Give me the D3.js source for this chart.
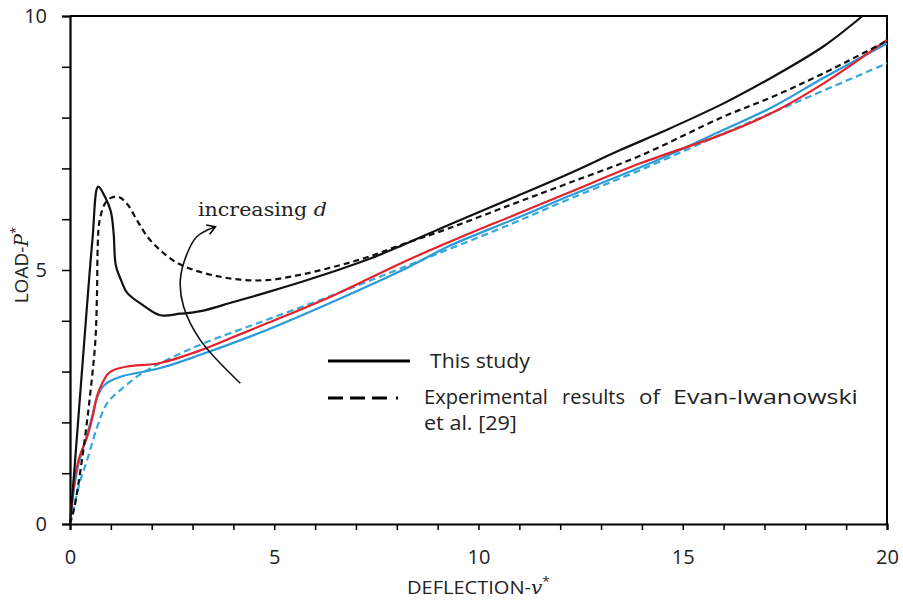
<!DOCTYPE html>
<html>
<head>
<meta charset="utf-8">
<script src="https://cdn.jsdelivr.net/npm/d3@7"></script>
<style>
  body { margin: 0; background: #fff; }
  svg { display: block; font-family: "Open Sans", Lato, sans-serif; }
</style>
</head>
<body>
<div id="app"></div>
<script>
// this study, black solid (largest d)
const studyBlack = [[0,0],[0.12,1.2],[0.34,3.5],[0.55,5.6],[0.69,6.64],[0.85,6.45],[1.0,6.15],[1.07,5.7],[1.12,5.1],[1.25,4.8],[1.4,4.55],[1.8,4.3],[2.21,4.11],[2.7,4.14],[3.2,4.19],[4.0,4.37],[4.82,4.56],[5.64,4.76],[6.45,4.97],[7.27,5.2],[8.09,5.47],[9.31,5.9],[10.78,6.4],[12.17,6.88],[13.47,7.36],[14.5,7.72],[16,8.28],[17.2,8.8],[18.44,9.4],[19.4,10]];
// experimental, black dashed
const expBlack = [[0,0],[0.1,0.3],[0.3,1.3],[0.5,2.6],[0.62,3.6],[0.66,4.5],[0.68,5.5],[0.72,5.95],[0.85,6.3],[1.0,6.42],[1.19,6.44],[1.4,6.3],[1.64,5.98],[1.9,5.65],[2.21,5.39],[2.6,5.15],[3.03,5.0],[3.6,4.88],[4.17,4.81],[4.82,4.8],[5.6,4.9],[6.45,5.06],[7.27,5.25],[8.09,5.49],[9.31,5.83],[10.78,6.28],[12.17,6.7],[13.96,7.25],[16,8.02],[17.2,8.41],[18.44,8.87],[20,9.51]];
// this study, red solid
const studyRed = [[0,0],[0.1,0.8],[0.22,1.29],[0.42,1.72],[0.55,2.1],[0.67,2.54],[0.79,2.77],[0.92,2.95],[1.07,3.03],[1.4,3.1],[2.21,3.17],[3.2,3.42],[4.0,3.68],[4.82,3.95],[6.45,4.5],[8.09,5.13],[9.31,5.56],[10.78,6.05],[12.17,6.51],[13.96,7.1],[16,7.68],[17.2,8.1],[18.44,8.67],[20,9.53]];
// this study, blue solid
const studyBlue = [[0,0],[0.1,0.7],[0.2,1.15],[0.38,1.65],[0.52,2.05],[0.67,2.51],[0.8,2.7],[0.95,2.8],[1.24,2.9],[2.21,3.07],[3.19,3.33],[4.82,3.82],[6.45,4.38],[8.09,4.98],[9.31,5.48],[10.78,5.97],[12.17,6.44],[14.2,7.1],[16,7.76],[17.2,8.21],[18.44,8.78],[20,9.46]];
// experimental, blue dashed
const expBlue = [[0,0],[0.1,0.35],[0.25,0.85],[0.42,1.26],[0.67,1.92],[0.91,2.38],[1.24,2.64],[1.64,2.9],[2.05,3.1],[3.19,3.53],[4.82,4.02],[6.45,4.51],[8.09,5.03],[10.78,5.9],[12.17,6.38],[14,6.98],[16,7.69],[17.2,8.1],[18.44,8.53],[20,9.07]];
// "increasing d" arrow, in data units
const arrowPath = [[4.17,2.77],[3.19,3.62],[2.78,4.28],[2.7,4.8],[2.87,5.33],[3.11,5.66],[3.56,5.85]];

const xTicks = [0, 5, 10, 15, 20];
const yTicks = [0, 5, 10];

const w = 903;
const h = 600;

const x = d3.scaleLinear().domain([0, 20]).range([70, 887]);
const y = d3.scaleLinear().domain([0, 10]).range([524, 16]);

const svg = d3.select('#app').append('svg')
  .attr('width', w)
  .attr('height', h);

// stretch a text horizontally to a target width
function fitText(t, px, py, width, rot) {
  const len = t.node().getComputedTextLength();
  t.attr('transform', `translate(${px},${py})` + (rot ? ` rotate(${rot})` : '') + ` scale(${width / len},1)`);
}

svg.append('defs').append('marker')
  .attr('id', 'head')
  .attr('viewBox', '-10 -6 12 12')
  .attr('markerWidth', 12)
  .attr('markerHeight', 12)
  .attr('markerUnits', 'userSpaceOnUse')
  .attr('orient', 'auto')
  .append('path')
  .attr('d', 'M-8,-5L0,0L-8,5')
  .attr('fill', 'none')
  .attr('stroke', '#000')
  .attr('stroke-width', 1.6);

//////////AXES//////////

const xAxis = svg.append('g')
  .attr('transform', `translate(0,${y(0)})`)
  .call(d3.axisBottom(x).ticks(20).tickSizeOuter(0).tickSize(6).tickFormat(d => xTicks.includes(d) ? d : ''));
xAxis.select('.domain').attr('stroke-width', 2.2);
xAxis.selectAll('.tick line').attr('stroke-width', 1.5);
xAxis.selectAll('text').attr('font-size', 20).attr('y', 26).attr('dy', '0.71em').attr('fill', '#222')
  .attr('font-family', '"Open Sans", sans-serif');

const yAxis = svg.append('g')
  .attr('transform', `translate(${x(0)},0)`)
  .call(d3.axisLeft(y).ticks(10).tickSizeOuter(0).tickSize(8).tickFormat(d => yTicks.includes(d) ? d : ''));
yAxis.select('.domain').attr('stroke-width', 2.2);
yAxis.selectAll('.tick line').attr('stroke-width', 1.5);
yAxis.selectAll('text').attr('font-size', 20).attr('x', -23).attr('fill', '#222')
  .attr('font-family', '"Open Sans", sans-serif');

// top and right frame
svg.append('path')
  .attr('d', `M${x(0)},${y(10)}H${x(20)}V${y(0)}`)
  .attr('fill', 'none')
  .attr('stroke', '#000')
  .attr('stroke-width', 2);

const xTitle = svg.append('text')
  .attr('font-size', 19)
  .attr('fill', '#222')
  .call(t => {
    t.append('tspan').text('DEFLECTION-');
    t.append('tspan').attr('font-family', '"DejaVu Serif", serif').attr('font-style', 'italic').text('v');
    t.append('tspan').attr('font-size', 13).attr('dy', -8).text('*');
  });
fitText(xTitle, 407, 594, 143);

svg.append('text')
  .attr('transform', 'translate(28,265) rotate(-90)')
  .attr('text-anchor', 'middle')
  .attr('font-size', 19)
  .attr('fill', '#222')
  .call(t => {
    t.append('tspan').text('LOAD-');
    t.append('tspan').attr('font-family', '"DejaVu Serif", serif').attr('font-style', 'italic').text('P');
    t.append('tspan').attr('font-size', 13).attr('dy', -8).text('*');
  });

//////////CURVES//////////

const line = d3.line()
  .x(d => x(d[0]))
  .y(d => y(d[1]))
  .curve(d3.curveCatmullRom.alpha(0.5));

const series = [
  { data: expBlue, color: '#35a9dc', dash: '7,4', width: 2.2 },
  { data: studyBlue, color: '#2a9ad8', dash: null, width: 2.2 },
  { data: studyRed, color: '#e3232b', dash: null, width: 2.2 },
  { data: expBlack, color: '#111', dash: '6,4', width: 2.2 },
  { data: studyBlack, color: '#111', dash: null, width: 2.2 }
];

svg.append('g')
  .selectAll('path')
  .data(series)
  .join('path')
  .attr('d', d => line(d.data))
  .attr('fill', 'none')
  .attr('stroke', d => d.color)
  .attr('stroke-width', d => d.width)
  .attr('stroke-dasharray', d => d.dash);

//////////ANNOTATION//////////

svg.append('path')
  .attr('d', line(arrowPath))
  .attr('fill', 'none')
  .attr('stroke', '#111')
  .attr('stroke-width', 1.6)
  .attr('marker-end', 'url(#head)');

const note = svg.append('text')
  .attr('font-family', '"DejaVu Serif", serif')
  .attr('font-size', 19)
  .attr('fill', '#222')
  .call(t => {
    t.append('tspan').text('increasing ');
    t.append('tspan').attr('font-style', 'italic').text('d');
  });
fitText(note, 198, 216, 129);

//////////LEGEND//////////

svg.append('line')
  .attr('x1', 328).attr('x2', 410)
  .attr('y1', 361).attr('y2', 361)
  .attr('stroke', '#000')
  .attr('stroke-width', 3);

svg.append('line')
  .attr('x1', 328).attr('x2', 400)
  .attr('y1', 398).attr('y2', 398)
  .attr('stroke', '#000')
  .attr('stroke-width', 3)
  .attr('stroke-dasharray', '15,7,15,7,15,9,2,50');

// [text, x, baseline, width]
const legendWords = [
  ['This study', 430, 368, 100],
  ['Experimental', 424, 404, 124],
  ['results', 562, 404, 63],
  ['of', 639, 404, 21],
  ['Evan-Iwanowski', 673, 404, 185],
  ['et al. [29]', 424, 430, 93]
];

svg.append('g')
  .selectAll('text')
  .data(legendWords)
  .join('text')
  .attr('font-size', 20)
  .attr('fill', '#222')
  .text(d => d[0])
  .each(function (d) { fitText(d3.select(this), d[1], d[2], d[3]); });
</script>
</body>
</html>
